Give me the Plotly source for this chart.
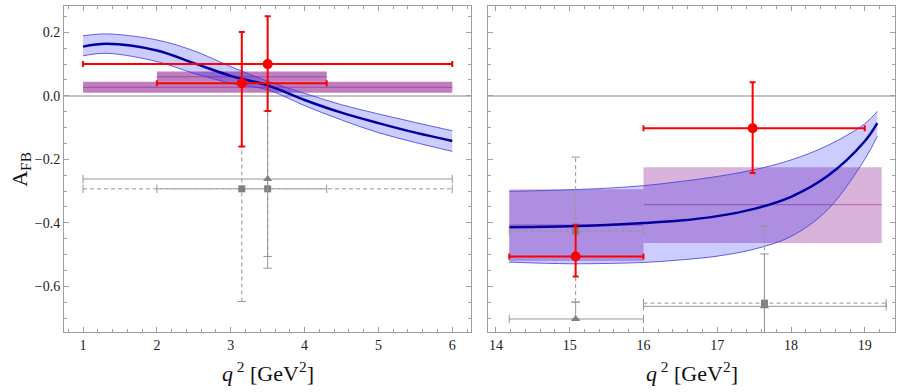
import plotly.graph_objects as go

# SM prediction, low q^2 region (central value and band edges)
q_low = [1, 1.32, 2, 2.5, 3, 3.5, 4, 4.5, 5, 5.5, 6]
sm_low = [0.155, 0.164, 0.143, 0.103, 0.063, 0.033, -0.013, -0.053, -0.086, -0.116, -0.142]
sm_low_hi = [0.189, 0.195, 0.176, 0.142, 0.092, 0.046, 0.008, -0.028, -0.057, -0.084, -0.110]
sm_low_lo = [0.126, 0.134, 0.108, 0.071, 0.040, 0.019, -0.031, -0.076, -0.116, -0.147, -0.175]

# SM prediction, high q^2 region
q_high = [14.18, 15, 15.5, 16, 16.5, 17, 17.5, 18, 18.5, 19, 19.17]
sm_high = [-0.414, -0.411, -0.407, -0.401, -0.393, -0.379, -0.356, -0.318, -0.252, -0.143, -0.086]
sm_high_hi = [-0.301, -0.296, -0.291, -0.283, -0.270, -0.254, -0.233, -0.202, -0.156, -0.088, -0.049]
sm_high_lo = [-0.524, -0.529, -0.528, -0.525, -0.517, -0.505, -0.483, -0.443, -0.358, -0.200, -0.128]

# binned predictions (boxes): bin edges, band low/high, central value
box_low_x0 = [1, 2]
box_low_x1 = [6, 4.3]
box_low_y0 = [0.010, 0.044]
box_low_y1 = [0.044, 0.077]
box_low_mid = [0.027, 0.060]

box_high_x0 = [14.18, 16]
box_high_x1 = [16, 19.23]
box_high_y0 = [-0.52, -0.464]
box_high_y1 = [-0.294, -0.225]
box_high_mid = [-0.407, -0.343]

# red measurements
red_low_x = [3.15, 3.5]
red_low_y = [0.04, 0.10]
red_low_xlo = [2, 1]
red_low_xhi = [4.3, 6]
red_low_ylo = [-0.16, -0.048]
red_low_yhi = [0.201, 0.251]

red_high_x = [15.08, 17.48]
red_high_y = [-0.506, -0.102]
red_high_xlo = [14.18, 16]
red_high_xhi = [16, 19]
red_high_ylo = [-0.569, -0.243]
red_high_yhi = [-0.406, 0.043]

# gray squares (dashed error bars)
sq_low_x = [3.15, 3.5]
sq_low_y = [-0.293, -0.293]
sq_low_xlo = [2, 1]
sq_low_xhi = [4.3, 6]
sq_low_ylo = [-0.648, -0.506]
sq_low_yhi = [-0.16, -0.048]

sq_high_x = [15.08, 17.64]
sq_high_y = [-0.426, -0.653]
sq_high_xlo = [14.18, 16]
sq_high_xhi = [16, 19.29]
sq_high_ylo = [-0.65, -0.95]
sq_high_yhi = [-0.193, -0.41]

# gray triangles (solid error bars)
tri_low_x = [3.5]
tri_low_y = [-0.262]
tri_low_xlo = [1]
tri_low_xhi = [6]
tri_low_ylo = [-0.543]
tri_low_yhi = [-0.048]

tri_high_x = [15.08, 17.64]
tri_high_y = [-0.703, -0.663]
tri_high_xlo = [14.18, 16]
tri_high_xhi = [16, 19.29]
tri_high_ylo = [-0.703, -0.95]
tri_high_yhi = [-0.65, -0.498]

GRAY = 'rgb(150,150,150)'
FONT = 'Liberation Serif, Times New Roman, Times, serif'

fig = go.Figure()


def add_boxes(x0, x1, y0, y1, mid, fillc, xa, ya):
    for i in range(len(x0)):
        fig.add_trace(go.Scatter(
            x=[x0[i], x1[i], x1[i], x0[i], x0[i]],
            y=[y0[i], y0[i], y1[i], y1[i], y0[i]],
            mode='lines', fill='toself', fillcolor=fillc,
            line=dict(width=0), xaxis=xa, yaxis=ya, hoverinfo='skip'))
        fig.add_trace(go.Scatter(
            x=[x0[i], x1[i]], y=[mid[i], mid[i]], mode='lines',
            line=dict(color='rgba(128,0,128,0.45)', width=1),
            xaxis=xa, yaxis=ya, hoverinfo='skip'))


def add_band(q, c, hi, lo, xa, ya):
    fig.add_trace(go.Scatter(x=q, y=hi, mode='lines', line=dict(color='rgb(60,60,220)', width=0.8, shape='spline'),
                             xaxis=xa, yaxis=ya))
    fig.add_trace(go.Scatter(x=q, y=lo, mode='lines', line=dict(color='rgb(60,60,220)', width=0.8, shape='spline'),
                             fill='tonexty', fillcolor='rgba(0,0,255,0.2)', xaxis=xa, yaxis=ya))
    fig.add_trace(go.Scatter(x=q, y=c, mode='lines', line=dict(color='rgb(0,0,160)', width=2.5, shape='spline'),
                             xaxis=xa, yaxis=ya))


def add_gray(x, y, xlo, xhi, ylo, yhi, dash, symbol, msize, xa, ya):
    for i in range(len(x)):
        fig.add_trace(go.Scatter(
            x=[xlo[i], xhi[i], None, x[i], x[i]],
            y=[y[i], y[i], None, ylo[i], yhi[i]],
            mode='lines', line=dict(color=GRAY, width=1, dash=dash),
            xaxis=xa, yaxis=ya, hoverinfo='skip'))
        fig.add_trace(go.Scatter(
            x=[xlo[i], xhi[i]], y=[y[i], y[i]], mode='markers',
            marker=dict(symbol='line-ns', size=6, line=dict(color=GRAY, width=1)),
            xaxis=xa, yaxis=ya, hoverinfo='skip'))
        fig.add_trace(go.Scatter(
            x=[x[i], x[i]], y=[ylo[i], yhi[i]], mode='markers',
            marker=dict(symbol='line-ew', size=6, line=dict(color=GRAY, width=1)),
            xaxis=xa, yaxis=ya, hoverinfo='skip'))
    fig.add_trace(go.Scatter(x=x, y=y, mode='markers',
                             marker=dict(symbol=symbol, size=msize, color='rgb(128,128,128)'),
                             xaxis=xa, yaxis=ya))


def add_red(x, y, xlo, xhi, ylo, yhi, xa, ya):
    fig.add_trace(go.Scatter(
        x=x, y=y, mode='markers',
        marker=dict(color='red', size=10),
        error_x=dict(type='data', symmetric=False,
                     array=[xhi[i] - x[i] for i in range(len(x))],
                     arrayminus=[x[i] - xlo[i] for i in range(len(x))],
                     color='red', thickness=2, width=3),
        error_y=dict(type='data', symmetric=False,
                     array=[yhi[i] - y[i] for i in range(len(y))],
                     arrayminus=[y[i] - ylo[i] for i in range(len(y))],
                     color='red', thickness=2, width=3),
        xaxis=xa, yaxis=ya))


# left panel
add_boxes(box_low_x0, box_low_x1, box_low_y0, box_low_y1, box_low_mid, 'rgba(128,0,128,0.5)', 'x', 'y')
add_band(q_low, sm_low, sm_low_hi, sm_low_lo, 'x', 'y')
add_gray(sq_low_x, sq_low_y, sq_low_xlo, sq_low_xhi, sq_low_ylo, sq_low_yhi, '4px,3px', 'square', 7, 'x', 'y')
add_gray(tri_low_x, tri_low_y, tri_low_xlo, tri_low_xhi, tri_low_ylo, tri_low_yhi, 'solid', 'triangle-up', 8, 'x', 'y')
add_red(red_low_x, red_low_y, red_low_xlo, red_low_xhi, red_low_ylo, red_low_yhi, 'x', 'y')

# right panel
add_boxes(box_high_x0, box_high_x1, box_high_y0, box_high_y1, box_high_mid, 'rgba(128,0,128,0.3)', 'x2', 'y2')
add_band(q_high, sm_high, sm_high_hi, sm_high_lo, 'x2', 'y2')
add_gray(sq_high_x, sq_high_y, sq_high_xlo, sq_high_xhi, sq_high_ylo, sq_high_yhi, '4px,3px', 'square', 7, 'x2', 'y2')
add_gray(tri_high_x, tri_high_y, tri_high_xlo, tri_high_xhi, tri_high_ylo, tri_high_yhi, 'solid', 'triangle-up', 8, 'x2', 'y2')
add_red(red_high_x, red_high_y, red_high_xlo, red_high_xhi, red_high_ylo, red_high_yhi, 'x2', 'y2')

axis_style = dict(showline=True, linecolor='rgb(160,160,160)', linewidth=1, mirror='ticks',
                  ticks='inside', ticklen=5, tickcolor='rgb(160,160,160)', showgrid=False,
                  automargin=False, tickfont=dict(family=FONT, size=14, color='#222'))
y_range = [-0.744, 0.283]

fig.update_layout(
    width=913, height=392, showlegend=False,
    template='none', plot_bgcolor='white', paper_bgcolor='white',
    margin=dict(l=64, r=18, t=6, b=60),
    font=dict(family=FONT),
    xaxis=dict(domain=[0, 0.4898], range=[0.742, 6.254], anchor='y', dtick=1, zeroline=False,
               minor=dict(dtick=0.2, ticks='inside', ticklen=3, tickcolor='rgb(160,160,160)'), **axis_style),
    yaxis=dict(domain=[0, 1], range=y_range, anchor='x', dtick=0.2, tickformat='.1f',
               zeroline=True, zerolinecolor='rgb(195,195,195)', zerolinewidth=1.5,
               minor=dict(dtick=0.05, ticks='inside', ticklen=3, tickcolor='rgb(160,160,160)'), **axis_style),
    xaxis2=dict(domain=[0.5106, 1], range=[13.896, 19.41], anchor='y2', dtick=1, zeroline=False,
                minor=dict(dtick=0.2, ticks='inside', ticklen=3, tickcolor='rgb(160,160,160)'), **axis_style),
    yaxis2=dict(domain=[0, 1], range=y_range, anchor='x2', dtick=0.2, showticklabels=False,
                zeroline=True, zerolinecolor='rgb(195,195,195)', zerolinewidth=1.5,
                minor=dict(dtick=0.05, ticks='inside', ticklen=3, tickcolor='rgb(160,160,160)'), **axis_style),
)

xlabel = '<i>q</i><sup> 2</sup> [GeV<sup>2</sup>]'
fig.add_annotation(text=xlabel, xref='x domain', yref='paper', x=0.5, y=0, yanchor='top', yshift=-24,
                   showarrow=False, font=dict(family=FONT, size=22, color='#111'))
fig.add_annotation(text=xlabel, xref='x2 domain', yref='paper', x=0.5, y=0, yanchor='top', yshift=-24,
                   showarrow=False, font=dict(family=FONT, size=22, color='#111'))
fig.add_annotation(text='A<sub>FB</sub>', xref='paper', yref='paper', x=-0.052, y=0.5, textangle=-90,
                   xanchor='center', yanchor='middle', showarrow=False,
                   font=dict(family=FONT, size=22, color='#111'))

fig.write_html("out.html", config={'displayModeBar': False},
               post_script="document.body.style.margin='0px';")
